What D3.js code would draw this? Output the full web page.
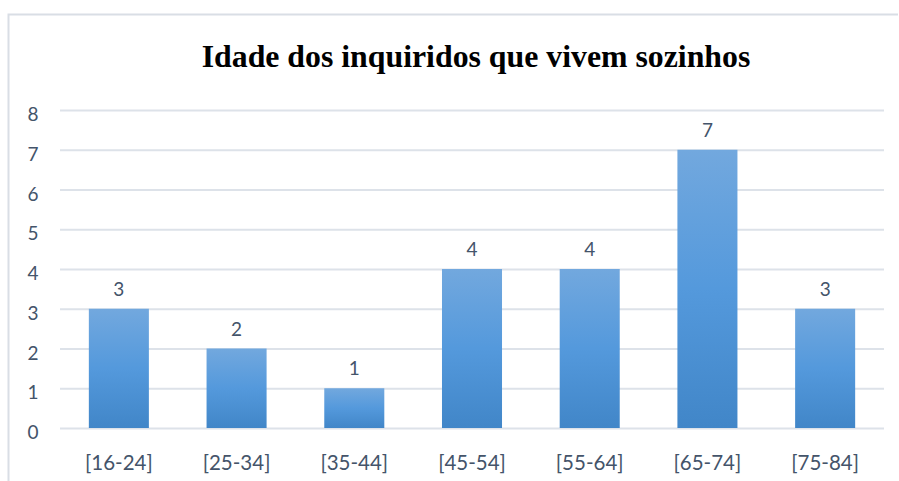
<!DOCTYPE html>
<html>
<head>
<meta charset="utf-8">
<script src="https://cdn.jsdelivr.net/npm/d3@7"></script>
<style>
  body { margin: 0; background: #fff; }
</style>
</head>
<body>
<div class="chart"></div>
<script>
let width = 899
let height = 481

let categories = ['[16-24]', '[25-34]', '[35-44]', '[45-54]', '[55-64]', '[65-74]', '[75-84]']
let counts = [3, 2, 1, 4, 4, 7, 3]
let yTicks = [0, 1, 2, 3, 4, 5, 6, 7, 8]
let title = 'Idade dos inquiridos que vivem sozinhos'

let labelFont = 'Lato, "Open Sans", sans-serif'
let textColor = '#44546a'

let x = d3.scaleBand()
    .domain(categories)
    .range([60, 884])
    .paddingInner(0.49)
    .paddingOuter(0.245)

let y = d3.scaleLinear()
    .domain([0, 8])
    .range([428, 110])

let svg = d3.select('div.chart')
    .append('svg')
    .attr('width', width)
    .attr('height', height)

// bar gradient, light on top, darker at the bottom
let grad = svg.append('defs')
    .append('linearGradient')
    .attr('id', 'barFill')
    .attr('x1', 0).attr('y1', 0)
    .attr('x2', 0).attr('y2', 1)
grad.append('stop').attr('offset', '0%').attr('stop-color', '#72a8de')
grad.append('stop').attr('offset', '50%').attr('stop-color', '#5499dc')
grad.append('stop').attr('offset', '100%').attr('stop-color', '#4186c8')

// chart frame
svg.append('path')
    .attr('d', 'M8.5,481 V14.5 H898')
    .style('fill', 'none')
    .style('stroke', '#d9dee5')
    .style('stroke-width', 2)

svg.append('text')
    .attr('x', 476)
    .attr('y', 67)
    .attr('text-anchor', 'middle')
    .style('font-family', '"Liberation Serif", "DejaVu Serif", serif')
    .style('font-weight', 'bold')
    .style('font-size', '31.8px')
    .style('fill', '#000')
    .text(title)

// gridlines
svg.append('g')
    .selectAll('line')
    .data(yTicks)
    .enter()
    .append('line')
    .attr('x1', 60)
    .attr('x2', 884)
    .attr('y1', d => y(d) + 0.5)
    .attr('y2', d => y(d) + 0.5)
    .style('stroke', '#dde2e9')
    .style('stroke-width', 2)

// y labels
svg.append('g')
    .selectAll('text')
    .data(yTicks)
    .enter()
    .append('text')
    .attr('x', 33)
    .attr('y', d => y(d) + 11)
    .attr('text-anchor', 'middle')
    .style('font-family', labelFont)
    .style('font-size', '19px')
    .style('fill', textColor)
    .text(d => d)

// bars
svg.append('g')
    .selectAll('rect')
    .data(counts)
    .enter()
    .append('rect')
    .attr('x', (d, i) => x(categories[i]))
    .attr('y', d => y(d))
    .attr('width', x.bandwidth())
    .attr('height', d => y(0) - y(d))
    .style('fill', 'url(#barFill)')

// value labels
svg.append('g')
    .selectAll('text')
    .data(counts)
    .enter()
    .append('text')
    .attr('x', (d, i) => x(categories[i]) + x.bandwidth() / 2)
    .attr('y', d => y(d) - 13)
    .attr('text-anchor', 'middle')
    .style('font-family', labelFont)
    .style('font-size', '19px')
    .style('fill', textColor)
    .text(d => d)

// category labels
svg.append('g')
    .selectAll('text')
    .data(categories)
    .enter()
    .append('text')
    .attr('x', d => x(d) + x.bandwidth() / 2)
    .attr('y', 470)
    .attr('text-anchor', 'middle')
    .style('font-family', labelFont)
    .style('font-size', '20.5px')
    .style('fill', textColor)
    .text(d => d)
</script>
</body>
</html>
